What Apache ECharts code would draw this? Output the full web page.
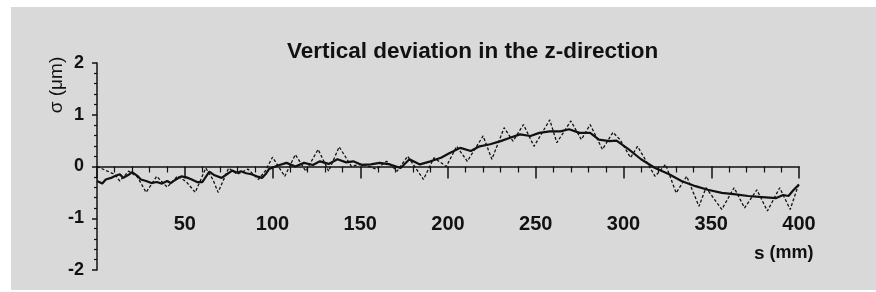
<!DOCTYPE html>
<html>
<head>
<meta charset="utf-8">
<script src="https://cdn.jsdelivr.net/npm/echarts@6/dist/echarts.min.js"></script>
<style>
    body { margin: 0; background: #fff; }
    #panel { position: absolute; left: 11px; top: 7px; width: 865px; height: 283px; background: #d9d9d9; }
    #chart { position: absolute; left: 0; top: 0; width: 876px; height: 292px; }
</style>
</head>
<body>
<div id="panel"></div>
<div id="chart"></div>
<script>
// s (mm), sigma (um) -- solid trace
var solidS = [0, 3, 5, 8, 10, 13, 15, 18, 20, 23, 25, 28, 31, 34, 37, 40, 42, 45, 48, 51, 54, 57, 60, 64, 67, 71, 74, 77, 80, 82, 85, 88, 91, 94, 96, 98,
    103, 108, 113, 118, 123, 127, 132, 137, 142, 146, 151, 156, 161, 167, 173, 178, 184, 190, 196,
    201, 207, 213, 218, 224, 230, 235, 241, 247, 252, 258, 264, 269, 275, 281, 286, 292, 296,
    303, 310, 318, 326, 333, 341, 348, 356, 364, 371, 379, 387, 391, 394, 397, 400];
var solidV = [-0.28, -0.33, -0.25, -0.22, -0.19, -0.15, -0.22, -0.16, -0.11, -0.18, -0.25, -0.28, -0.32, -0.3, -0.33, -0.28, -0.32, -0.25, -0.19, -0.21, -0.25, -0.3, -0.3, -0.1, -0.17, -0.22, -0.15, -0.08, -0.12, -0.09, -0.13, -0.15, -0.19, -0.22, -0.15, -0.05,
    0.02, 0.07, 0.0, 0.07, 0.03, 0.1, 0.05, 0.14, 0.08, 0.1, 0.03, 0.04, 0.07, 0.04, -0.03, 0.14, 0.04, 0.1, 0.17,
    0.26, 0.36, 0.3, 0.39, 0.43, 0.49, 0.55, 0.62, 0.59, 0.65, 0.68, 0.68, 0.72, 0.65, 0.65, 0.52, 0.49, 0.5,
    0.33, 0.14, -0.03, -0.15, -0.28, -0.38, -0.45, -0.51, -0.54, -0.57, -0.59, -0.61, -0.55, -0.57, -0.45, -0.35];

// dashed trace
var dashS = [0, 10, 13, 18, 23, 28, 34, 40, 46, 51, 56, 62, 66, 69, 75, 80, 86, 92, 96,
    100, 107, 113, 119, 126, 132, 138, 145, 151, 159, 165, 171, 177, 186, 192, 199,
    205, 211, 220, 225, 232, 237, 243, 249, 258, 262, 270, 276, 281, 288, 294, 298,
    304, 308, 318, 324, 330, 336, 343, 347, 356, 363, 369, 376, 382, 389, 395, 400];
var dashV = [0, -0.15, -0.28, -0.09, -0.2, -0.5, -0.19, -0.4, -0.18, -0.3, -0.5, -0.03, -0.25, -0.5, -0.03, -0.15, -0.05, -0.25, -0.08,
    0.18, -0.19, 0.23, -0.09, 0.33, -0.09, 0.38, 0.0, 0.05, -0.05, 0.1, -0.09, 0.2, -0.25, 0.17, 0.0,
    0.39, 0.1, 0.59, 0.14, 0.75, 0.49, 0.81, 0.39, 0.9, 0.46, 0.88, 0.52, 0.81, 0.33, 0.66, 0.52,
    0.17, 0.39, -0.19, 0.04, -0.51, -0.19, -0.77, -0.41, -0.83, -0.41, -0.8, -0.45, -0.86, -0.41, -0.83, -0.32];

var xTicks = [0, 400, 50];
var yTicks = [-2, 2, 1];

function pairs(xs, ys) {
    var out = [];
    for (var i = 0; i < xs.length; i++) out.push([xs[i], ys[i]]);
    return out;
}

var font = 'Liberation Sans, Arial, sans-serif';
var myChart = echarts.init(document.getElementById('chart'));

option = {
    backgroundColor: 'transparent',
    animation: false,
    title: [{
        text: 'Vertical deviation in the z-direction',
        left: 282,
        top: 35,
        textStyle: { fontFamily: font, fontWeight: 'bold', fontSize: 22.5, color: '#111' }
    }, {
        text: '{b|s} {r|(mm)}',
        left: 749,
        top: 239,
        textStyle: {
            rich: {
                b: { fontFamily: font, fontWeight: 'bold', fontSize: 19, color: '#111' },
                r: { fontFamily: font, fontSize: 18, color: '#111' }
            }
        }
    }],
    graphic: [{
        type: 'text',
        x: 57,
        y: 85,
        rotation: Math.PI / 2,
        style: {
            text: 'σ (μm)',
            font: '19px ' + font,
            fill: '#111',
            textAlign: 'center',
            textVerticalAlign: 'middle'
        }
    }],
    grid: { left: 97, right: 77, top: 63, bottom: 22, containLabel: false, outerBoundsMode: 'none' },
    xAxis: {
        type: 'value',
        min: xTicks[0],
        max: xTicks[1],
        interval: xTicks[2],
        splitLine: { show: false },
        axisLine: { onZero: true, lineStyle: { color: '#111', width: 1.5 } },
        axisTick: { length: 12, lineStyle: { color: '#111', width: 1.5 } },
        minorTick: { show: true, splitNumber: 5, length: 6, lineStyle: { color: '#111', width: 1.2 } },
        axisLabel: {
            showMinLabel: false,
            margin: -56,
            fontFamily: font,
            fontWeight: 'bold',
            fontSize: 20,
            color: '#111'
        }
    },
    yAxis: {
        type: 'value',
        min: yTicks[0],
        max: yTicks[1],
        interval: yTicks[2],
        splitLine: { show: false },
        axisLine: { onZero: false, lineStyle: { color: '#111', width: 1.5 } },
        axisTick: { length: 5, lineStyle: { color: '#111', width: 1.5 } },
        minorTick: { show: true, splitNumber: 5, length: 3, lineStyle: { color: '#111', width: 1.2 } },
        axisLabel: {
            margin: 13,
            fontFamily: font,
            fontWeight: 'bold',
            fontSize: 18,
            color: '#111'
        }
    },
    series: [{
        type: 'line',
        data: pairs(dashS, dashV),
        showSymbol: false,
        lineStyle: { color: '#111', width: 1.3, type: [3, 2] }
    }, {
        type: 'line',
        data: pairs(solidS, solidV),
        showSymbol: false,
        lineStyle: { color: '#111', width: 2.2 }
    }]
};

myChart.setOption(option);
</script>
</body>
</html>
